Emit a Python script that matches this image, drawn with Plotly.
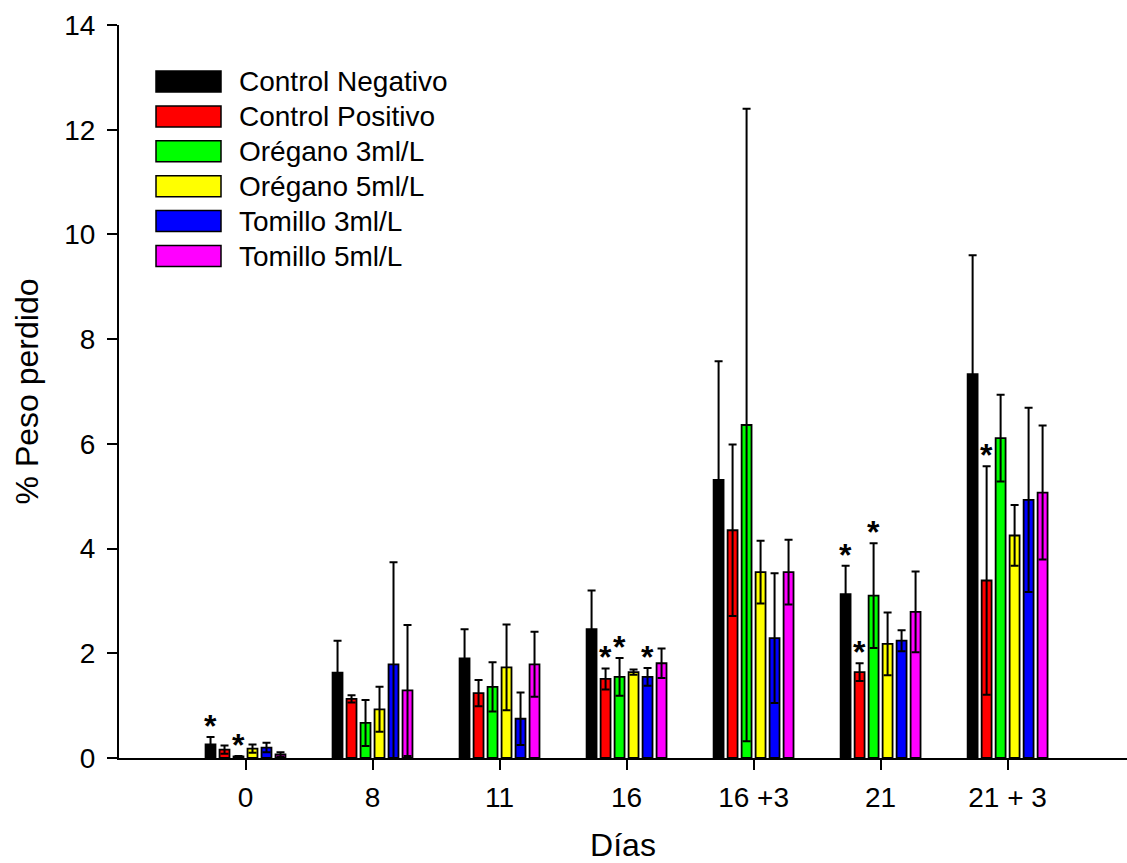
import plotly.graph_objects as go

# Sampling days (x categories)
days = ["0", "8", "11", "16", "16 +3", "21", "21 + 3"]

# Mean % weight loss and standard deviation per treatment
cn_mean = [0.26, 1.63, 1.90, 2.46, 5.31, 3.13, 7.33]
cn_sd = [0.14, 0.61, 0.56, 0.74, 2.27, 0.54, 2.27]
cp_mean = [0.16, 1.13, 1.24, 1.51, 4.35, 1.64, 3.39]
cp_sd = [0.08, 0.07, 0.25, 0.20, 1.64, 0.17, 2.18]
o3_mean = [0.03, 0.67, 1.36, 1.55, 6.36, 3.10, 6.11]
o3_sd = [0.01, 0.44, 0.47, 0.36, 6.04, 1.00, 0.83]
o5_mean = [0.18, 0.93, 1.73, 1.64, 3.55, 2.18, 4.25]
o5_sd = [0.08, 0.43, 0.82, 0.05, 0.60, 0.60, 0.58]
t3_mean = [0.20, 1.79, 0.75, 1.55, 2.29, 2.24, 4.93]
t3_sd = [0.09, 1.95, 0.50, 0.17, 1.24, 0.20, 1.76]
t5_mean = [0.07, 1.29, 1.79, 1.81, 3.55, 2.79, 5.07]
t5_sd = [0.04, 1.25, 0.62, 0.28, 0.62, 0.77, 1.28]

names = ["Control Negativo", "Control Positivo", "Orégano 3ml/L",
         "Orégano 5ml/L", "Tomillo 3ml/L", "Tomillo 5ml/L"]
colors = ["#000000", "#ff0000", "#00ff00", "#ffff00", "#0000ff", "#ff00ff"]
means = [cn_mean, cp_mean, o3_mean, o5_mean, t3_mean, t5_mean]
sds = [cn_sd, cp_sd, o3_sd, o5_sd, t3_sd, t5_sd]

# Significance marks: (day index, treatment index)
stars = [(0, 0), (0, 2), (3, 1), (3, 2), (3, 4), (5, 0), (5, 1), (5, 2), (6, 1)]

FONT = "Liberation Sans, Arial, sans-serif"
W, H = 1127, 863
ML, MR, MT, MB = 119, 0, 25, 105
BARGAP = 0.339
GROUPGAP = 0.29

xpos = list(range(len(days)))

fig = go.Figure()
for name, color, m, s in zip(names, colors, means, sds):
    fig.add_trace(go.Bar(
        x=xpos, y=m, name=name, showlegend=False,
        marker=dict(color=color, line=dict(color="black", width=1.8)),
        error_y=dict(type="data", array=s, visible=True, color="black",
                     thickness=2, width=4),
    ))

# Asterisks above the error bars
n = len(names)
slot = (1 - BARGAP) / n
for gi, si in stars:
    xs = gi + (si - (n - 1) / 2) * slot
    top = means[si][gi] + sds[si][gi]
    fig.add_annotation(x=xs, y=top, xref="x", yref="y", text="<b>*</b>",
                       showarrow=False, yanchor="middle", yshift=11,
                       font=dict(family=FONT, size=32, color="black"))

# Legend drawn as boxes + labels in the upper-left corner
pw = W - ML - MR
ph = H - MT - MB


def px_x(v):
    return (v - ML) / pw


def px_y(v):
    return (H - MB - v) / ph


row_top = 71
row_step = 34.9
box_h = 21
for i, (name, color) in enumerate(zip(names, colors)):
    y0 = row_top + i * row_step
    fig.add_shape(type="rect", xref="paper", yref="paper",
                  x0=px_x(156), x1=px_x(221), y0=px_y(y0 + box_h), y1=px_y(y0),
                  fillcolor=color, line=dict(color="black", width=1.5))
    fig.add_annotation(x=px_x(237), y=px_y(y0 + box_h / 2), xref="paper", yref="paper",
                       text=name, showarrow=False, xanchor="left", yanchor="middle",
                       font=dict(family=FONT, size=28, color="black"))

axis_common = dict(
    showline=True, linecolor="black", linewidth=2,
    ticks="outside", ticklen=10, tickwidth=1.5, tickcolor="black",
    showgrid=False, zeroline=False,
    tickfont=dict(family=FONT, size=28, color="black"),
)

fig.update_layout(
    width=W, height=H,
    margin=dict(l=ML, r=MR, t=MT, b=MB),
    paper_bgcolor="white", plot_bgcolor="white",
    barmode="group", bargap=BARGAP, bargroupgap=GROUPGAP,
    xaxis=dict(range=[-0.996, 6.94], tickvals=xpos, ticktext=days,
               ticklabelstandoff=3,
               title=dict(text="Días", font=dict(family=FONT, size=32, color="black"),
                          standoff=25),
               **axis_common),
    yaxis=dict(range=[0, 14], tickvals=[0, 2, 4, 6, 8, 10, 12, 14],
               ticklabelstandoff=6,
               title=dict(text="% Peso perdido", font=dict(family=FONT, size=32, color="black"),
                          standoff=16),
               **axis_common),
)

fig.write_html("out.html")
